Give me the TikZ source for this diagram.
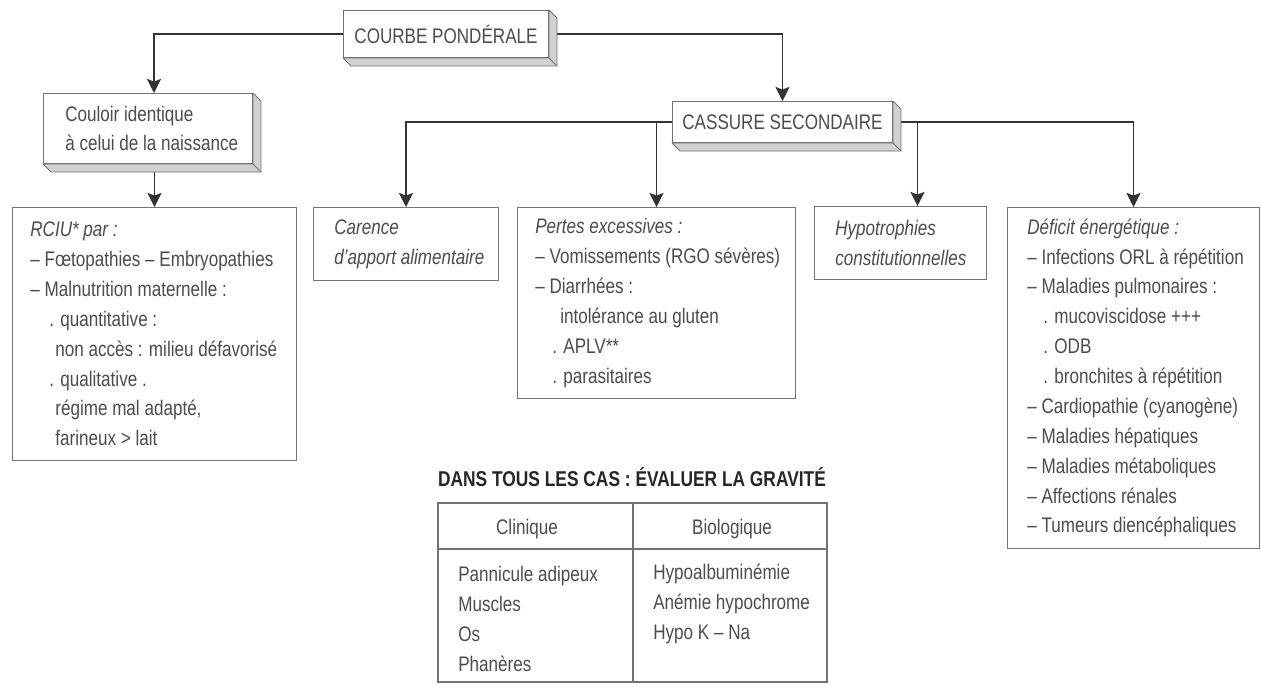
\documentclass[tikz,border=0pt]{standalone}
\usepackage{fontspec}
\setmainfont{Liberation Sans}[FakeStretch=0.81]
\usetikzlibrary{arrows.meta}

\pgfdeclarelayer{bg}
\pgfsetlayers{bg,main}

\tikzset{
  txt/.style={text=black!70, font=\fontsize{12}{17}\selectfont, inner sep=0pt},
  lines/.style={txt, align=left, anchor=west},
  box/.style={draw=black!55, line width=0.6pt, fill=white, anchor=north west, inner sep=0pt},
  topbox/.style={box, txt},
  link/.style={draw=black!80, line width=1.1pt, -{Stealth[length=8pt,width=8pt,inset=1.5pt]}},
  ext/.style={draw=black!55, line width=0.5pt, fill=black!18, line join=round},
}
\newcommand\extrude[1]{%
  \filldraw[ext] (#1.north east) -- ([shift={(8,8)}]#1.north east)
    -- ([shift={(8,8)}]#1.south east) -- ([shift={(8,8)}]#1.south west)
    -- (#1.south west) -- (#1.south east) -- cycle;
  \draw[ext] (#1.south east) -- ([shift={(8,8)}]#1.south east);}
\newcommand\ind[1]{\hspace*{#1}}

\begin{document}
\begin{tikzpicture}[x=0.02cm, y=-0.02cm]
\useasboundingbox (0,0) rectangle (1261,684);

% top row
\node[topbox, minimum width=4.1cm, minimum height=0.94cm] (courbe) at (343,10) {COURBE PONDÉRALE};
\extrude{courbe}
\node[box, minimum width=4.18cm, minimum height=1.4cm] (couloir) at (43,93) {};
\extrude{couloir}
\node[lines] (couloirT) at ([xshift=0.44cm]couloir.west)
  {Couloir identique\\à celui de la naissance};
\node[topbox, minimum width=4.4cm, minimum height=0.82cm] (cassure) at (672,101) {CASSURE SECONDAIRE};
\extrude{cassure}

% causes
\node[box, minimum width=5.68cm, minimum height=5.06cm] (rciu) at (12,207) {};
\node[lines] (rciuT) at ([xshift=0.36cm]rciu.west)
  {\textit{RCIU* par :}\\
   – Fœtopathies – Embryopathies\\
   – Malnutrition maternelle :\\
   \ind{0.38cm}. quantitative :\\
   \ind{0.5cm}non accès : milieu défavorisé\\
   \ind{0.38cm}. qualitative .\\
   \ind{0.5cm}régime mal adapté,\\
   \ind{0.5cm}farineux > lait};
\node[box, minimum width=3.7cm, minimum height=1.46cm] (carence) at (313,207) {};
\node[lines] (carenceT) at ([xshift=0.42cm]carence.west)
  {\textit{Carence}\\\textit{d'apport alimentaire}};
\node[box, minimum width=5.56cm, minimum height=3.82cm] (pertes) at (517,207) {};
\node[lines] (pertesT) at ([xshift=0.36cm]pertes.west)
  {\textit{Pertes excessives :}\\
   – Vomissements (RGO sévères)\\
   – Diarrhées :\\
   \ind{0.5cm}intolérance au gluten\\
   \ind{0.34cm}. APLV**\\
   \ind{0.34cm}. parasitaires};
\node[box, minimum width=3.44cm, minimum height=1.46cm] (hypo) at (814,206) {};
\node[lines] (hypoT) at ([xshift=0.42cm]hypo.west)
  {\textit{Hypotrophies}\\\textit{constitutionnelles}};
\node[box, minimum width=5.04cm, minimum height=6.82cm] (deficit) at (1007,207) {};
\node[lines] (deficitT) at ([xshift=0.4cm]deficit.west)
  {\textit{Déficit énergétique :}\\
   – Infections ORL à répétition\\
   – Maladies pulmonaires :\\
   \ind{0.32cm}. mucoviscidose +++\\
   \ind{0.32cm}. ODB\\
   \ind{0.32cm}. bronchites à répétition\\
   – Cardiopathie (cyanogène)\\
   – Maladies hépatiques\\
   – Maladies métaboliques\\
   – Affections rénales\\
   – Tumeurs diencéphaliques};

\begin{pgfonlayer}{bg}
\draw[link] (courbe.west) -| ([xshift=0.12cm]couloir.north);
\draw[link] (courbe.east) -| (cassure.north);
\draw[link] (couloir.south -| rciu.north) -- (rciu.north);
\draw[link] (cassure.west) -| (carence.north);
\draw[link] (cassure.west) -| (pertes.north);
\draw[link] (cassure.east) -| ([xshift=0.34cm]hypo.north);
\draw[link] (cassure.east) -| (deficit.north);
\end{pgfonlayer}

% gravity table
\node[text=black!85, font=\fontsize{12.2}{14}\selectfont\bfseries] (titre) at (632,477)
  {DANS TOUS LES CAS : ÉVALUER LA GRAVITÉ};
\draw[black!55, line width=0.6pt] (438,503) rectangle (827,682);
\draw[black!55, line width=0.6pt] (438,549) -- (827,549) (633,503) -- (633,682);
\node[txt] (clin) at (527,529) {Clinique};
\node[txt] (bio) at (732,529) {Biologique};
\node[lines] (clinval) at (458,619)
  {Pannicule adipeux\\Muscles\\Os\\Phanères};
\node[lines] (bioval) at (653,604)
  {Hypoalbuminémie\\Anémie hypochrome\\Hypo K – Na};
\end{tikzpicture}
\end{document}
